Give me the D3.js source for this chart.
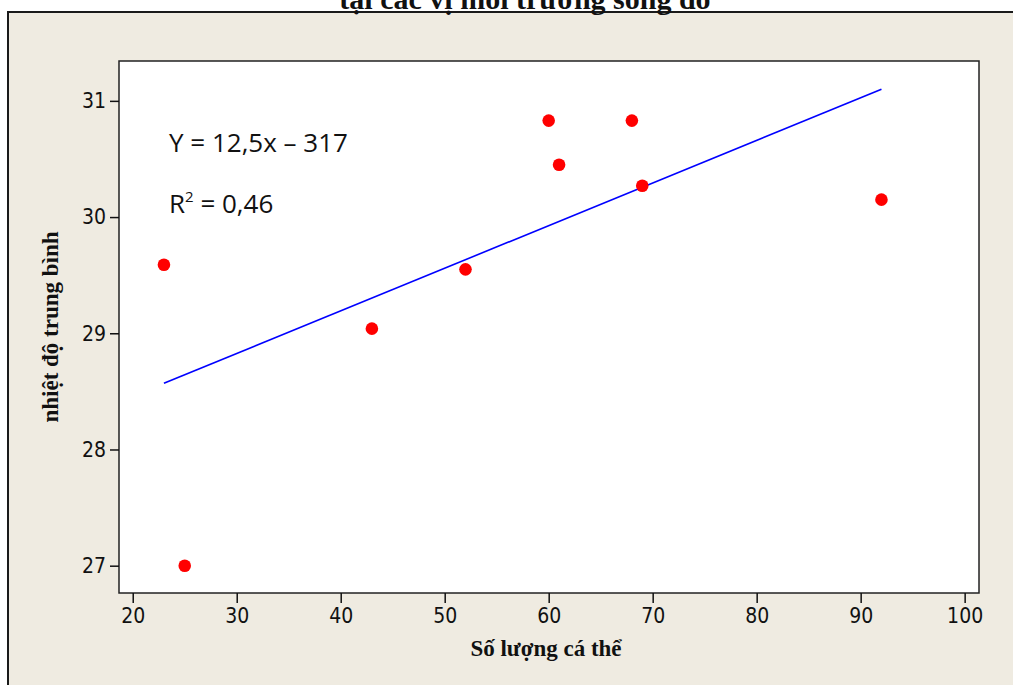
<!DOCTYPE html>
<html>
<head>
<meta charset="utf-8">
<script src="https://cdn.jsdelivr.net/npm/d3@7"></script>
<style>
    body { margin:0; background:#ffffff; }
    .tick text { font-family:"DejaVu Sans Condensed","DejaVu Sans",sans-serif; font-size:21px; fill:#111; }
    .tick line { stroke:#111; stroke-width:1.5; }
    .domain { display:none; }
    .axis-title { font-family:"Liberation Serif","Times New Roman",serif; font-weight:bold; font-size:23px; fill:#111; }
    .title { font-family:"Liberation Serif","Times New Roman",serif; font-weight:bold; font-size:30px; fill:#111; }
    .eq { font-family:"Open Sans",sans-serif; font-size:26px; fill:#111; }
</style>
</head>
<body>
<script>
// data
var soLuong = [23, 25, 43, 52, 60, 61, 68, 69, 92]
var nhietDo = [29.59, 27.00, 29.04, 29.55, 30.83, 30.45, 30.83, 30.27, 30.15]
var fitX = [23, 92]
var fitY = [28.57, 31.10]
var xTicks = [20, 30, 40, 50, 60, 70, 80, 90, 100]
var yTicks = [27, 28, 29, 30, 31]

var data = soLuong.map(function(d, i){ return {x:d, y:nhietDo[i]} })

var plot = {left:119, right:979, top:61, bottom:593}

var x = d3.scaleLinear()
    .domain([18.68, 101.38])
    .range([plot.left, plot.right])
var y = d3.scaleLinear()
    .domain([26.765, 31.343])
    .range([plot.bottom, plot.top])

var svg = d3.select("body").append("svg")
    .attr("width", 1013)
    .attr("height", 685)

//OUTER PANEL
svg.append("rect")
    .attr("x", 8)
    .attr("y", 12)
    .attr("width", 1020)
    .attr("height", 690)
    .attr("fill", "#efebe1")
    .attr("stroke", "#1a1a1a")
    .attr("stroke-width", 2)

//TITLE (cut off at the top, like the original)
svg.append("text")
    .attr("class", "title")
    .attr("x", 525)
    .attr("y", 9)
    .attr("text-anchor", "middle")
    .text("tại các vị môi trường sống đó")

//PLOT AREA
svg.append("rect")
    .attr("x", plot.left)
    .attr("y", plot.top)
    .attr("width", plot.right - plot.left)
    .attr("height", plot.bottom - plot.top)
    .attr("fill", "#ffffff")
    .attr("stroke", "#222")
    .attr("stroke-width", 1.5)

//AXES
var xAxis = d3.axisBottom(x).tickValues(xTicks).tickSize(10).tickPadding(5).tickFormat(d3.format("d"))
var yAxis = d3.axisLeft(y).tickValues(yTicks).tickSize(9).tickPadding(4).tickFormat(d3.format("d"))

svg.append("g").attr("class", "x axis")
    .attr("transform", "translate(0," + plot.bottom + ")")
    .call(xAxis)
svg.append("g").attr("class", "y axis")
    .attr("transform", "translate(" + plot.left + ",0)")
    .call(yAxis)

svg.append("text")
    .attr("class", "axis-title")
    .attr("x", (plot.left + plot.right) / 2 - 3)
    .attr("y", 656)
    .attr("text-anchor", "middle")
    .text("Số lượng cá thể")

svg.append("text")
    .attr("class", "axis-title")
    .attr("transform", "translate(58," + (plot.top + plot.bottom) / 2 + ") rotate(-90)")
    .attr("text-anchor", "middle")
    .text("nhiệt độ trung bình")

//FIT LINE
svg.append("line")
    .attr("x1", x(fitX[0]))
    .attr("y1", y(fitY[0]))
    .attr("x2", x(fitX[1]))
    .attr("y2", y(fitY[1]))
    .attr("stroke", "#0000ff")
    .attr("stroke-width", 1.6)

//POINTS
svg.append("g").selectAll("circle")
    .data(data)
    .enter().append("circle")
    .attr("cx", function(d){ return x(d.x) })
    .attr("cy", function(d){ return y(d.y) })
    .attr("r", 6.3)
    .attr("fill", "#ff0000")

//EQUATION
svg.append("text")
    .attr("class", "eq")
    .attr("x", 169)
    .attr("y", 152)
    .text("Y = 12,5x – 317")
var r2 = svg.append("text")
    .attr("class", "eq")
    .attr("x", 169)
    .attr("y", 213)
r2.append("tspan").text("R")
r2.append("tspan").attr("dy", -11).attr("font-size", "15px").text("2")
r2.append("tspan").attr("dy", 11).text(" = 0,46")
</script>
</body>
</html>
